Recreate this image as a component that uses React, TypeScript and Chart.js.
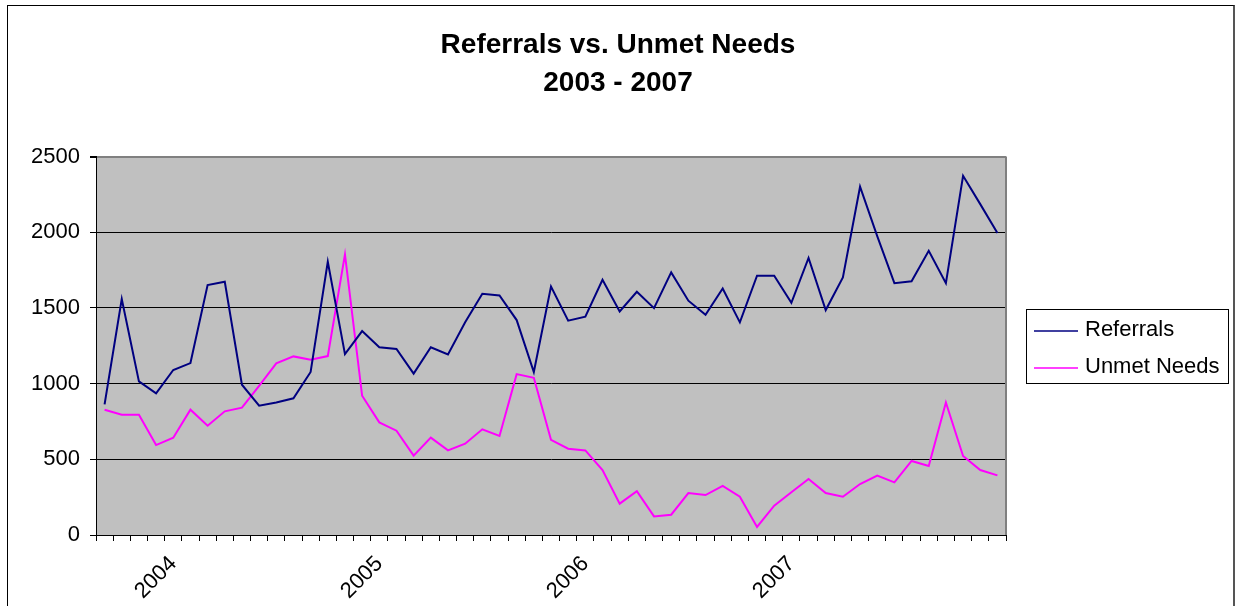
import { useEffect, useRef } from "react";
import { Chart, registerables } from "chart.js";

Chart.register(...registerables);

const categories: string[] = [
  "", "", "", "", "2004", "", "", "", "", "", "", "", "",
  "", "", "", "2005", "", "", "", "", "", "", "", "",
  "", "", "", "2006", "", "", "", "", "", "", "", "",
  "", "", "", "2007", "", "", "", "", "", "", "", "",
  "", "", "", "",
];

const referrals: number[] = [
  863, 1559, 1015, 936, 1090, 1136, 1651, 1673, 993, 854,
  876, 903, 1077, 1805, 1195, 1347, 1240, 1229, 1066, 1240,
  1193, 1405, 1594, 1583, 1420, 1077, 1642, 1416, 1442, 1686,
  1477, 1607, 1499, 1735, 1548, 1455, 1629, 1405, 1713, 1713,
  1534, 1830, 1486, 1702, 2301, 1975, 1664, 1676, 1878, 1664,
  2373, 2186, 1995,
];

const unmetNeeds: number[] = [
  828, 795, 795, 594, 643, 828, 722, 817, 841, 986,
  1134, 1180, 1158, 1182, 1854, 920, 744, 689, 524, 643,
  559, 603, 698, 654, 1063, 1039, 629, 570, 559, 429,
  207, 289, 123, 134, 277, 264, 324, 253, 53, 194,
  282, 370, 277, 253, 337, 392, 348, 489, 456, 876,
  522, 429, 394,
];

const seriesNames: string[] = ["Referrals", "Unmet Needs"];
const titleLines: string[] = ["Referrals vs. Unmet Needs", "2003 - 2007"];
const yMin = 0;
const yMax = 2500;
const yStep = 500;

const FONT = "'Liberation Sans', Arial, Helvetica, sans-serif";

export default function App() {
  const canvasRef = useRef<HTMLCanvasElement>(null);

  useEffect(() => {
    if (!canvasRef.current) return;

    const plotBackground = {
      id: "plotBackground",
      beforeDraw(chart: any) {
        const { ctx, chartArea } = chart;
        const { left, top, right, bottom } = chartArea;
        ctx.save();
        ctx.fillStyle = "#C0C0C0";
        ctx.fillRect(left, top, right - left, bottom - top);
        ctx.restore();
      },
      beforeDatasetsDraw(chart: any) {
        const { ctx, chartArea } = chart;
        const { top, right, bottom } = chartArea;
        ctx.save();
        ctx.strokeStyle = "#808080";
        ctx.lineWidth = 2;
        ctx.beginPath();
        ctx.moveTo(right, top);
        ctx.lineTo(right, bottom);
        ctx.stroke();
        ctx.restore();
      },
    };

    const boxLegend = {
      id: "boxLegend",
      afterDraw(chart: any) {
        const { ctx } = chart;
        const x = 1026;
        const y = 309;
        const w = 202;
        const h = 74;
        ctx.save();
        ctx.strokeStyle = "#000";
        ctx.lineWidth = 1;
        ctx.strokeRect(x + 0.5, y + 0.5, w, h);
        ctx.font = `22px ${FONT}`;
        ctx.textBaseline = "middle";
        ctx.textAlign = "left";
        chart.data.datasets.forEach((ds: any, i: number) => {
          const cy = y + 21 + i * 37;
          ctx.strokeStyle = ds.borderColor;
          ctx.lineWidth = 1.5;
          ctx.beginPath();
          ctx.moveTo(x + 8, cy + 1);
          ctx.lineTo(x + 52, cy + 1);
          ctx.stroke();
          ctx.fillStyle = "#000";
          ctx.fillText(ds.label, x + 59, cy);
        });
        ctx.restore();
      },
    };

    const chart = new Chart(canvasRef.current, {
      type: "line",
      data: {
        labels: categories,
        datasets: [
          {
            label: seriesNames[0],
            data: referrals,
            borderColor: "#000080",
            backgroundColor: "#000080",
            borderWidth: 2,
            pointRadius: 0,
            tension: 0,
          },
          {
            label: seriesNames[1],
            data: unmetNeeds,
            borderColor: "#FF00FF",
            backgroundColor: "#FF00FF",
            borderWidth: 2,
            pointRadius: 0,
            tension: 0,
          },
        ],
      },
      options: {
        responsive: false,
        animation: false,
        devicePixelRatio: 1,
        layout: { padding: 0 },
        plugins: {
          legend: { display: false },
          tooltip: { enabled: false },
          title: {
            display: true,
            text: titleLines,
            color: "#000",
            font: { family: FONT, size: 28, weight: "bold", lineHeight: 1.368 },
            padding: { top: 26, bottom: 54 },
          },
        },
        scales: {
          x: {
            type: "category",
            offset: true,
            grid: {
              offset: true,
              drawOnChartArea: false,
              drawTicks: true,
              tickLength: 6,
              color: "#000",
              lineWidth: 1,
            },
            border: { display: true, color: "#000", width: 1 },
            ticks: {
              autoSkip: false,
              minRotation: 45,
              maxRotation: 45,
              color: "#000",
              padding: 10,
              font: { family: FONT, size: 22 },
            },
            afterFit: (s: any) => {
              s.height = 71;
            },
          },
          y: {
            min: yMin,
            max: yMax,
            ticks: {
              stepSize: yStep,
              color: "#000",
              padding: 10,
              font: { family: FONT, size: 22 },
              callback: (v: any) => String(v),
            },
            grid: {
              color: (c: any) => (c.tick && c.tick.value === yMax ? "#808080" : "#000"),
              tickColor: "#000",
              tickLength: 6,
              lineWidth: (c: any) => (c.tick && c.tick.value === yMax ? 2 : 1),
            },
            border: { display: true, color: "#000", width: 1 },
            afterFit: (s: any) => {
              s.width = 96;
            },
          },
          legendSpace: {
            type: "linear",
            position: "right",
            display: true,
            grid: { display: false, drawOnChartArea: false, drawTicks: false },
            border: { display: false },
            ticks: { display: false },
            afterFit: (s: any) => {
              s.width = 230;
            },
          },
        },
      },
      plugins: [plotBackground, boxLegend],
    });

    return () => chart.destroy();
  }, []);

  return (
    <div
      style={{
        position: "fixed",
        left: 0,
        top: 0,
        width: 1236,
        height: 606,
        overflow: "hidden",
        background: "#fff",
      }}
    >
      <div
        style={{
          position: "absolute",
          left: 7,
          top: 5,
          width: 1228,
          height: 700,
          borderLeft: "1px solid #000",
          borderTop: "1px solid #000",
          borderRight: "2px solid #555",
          boxSizing: "border-box",
        }}
      />
      <canvas
        ref={canvasRef}
        width={1236}
        height={606}
        style={{ position: "absolute", left: 0, top: 0, display: "block" }}
      />
    </div>
  );
}
